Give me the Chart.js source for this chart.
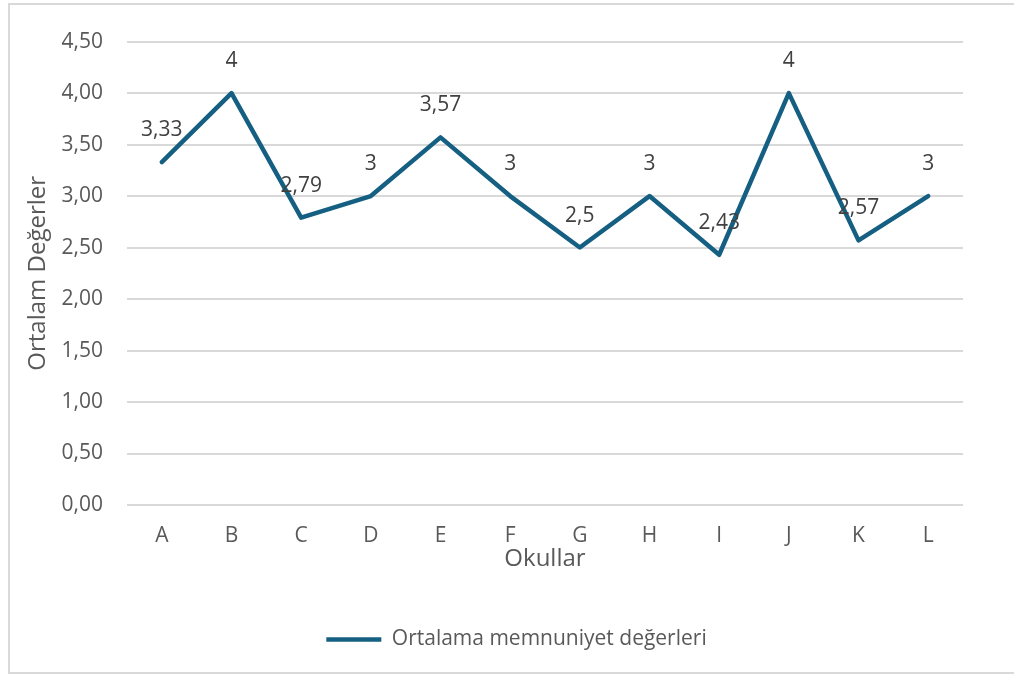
<!DOCTYPE html>
<html>
<head>
<meta charset="utf-8">
<script src="https://cdn.jsdelivr.net/npm/chart.js@4"></script>
<style>
  html, body { margin: 0; padding: 0; background: #fff; overflow: hidden; }
  #box {
    position: absolute; left: 8px; top: 3px;
    width: 1008px; height: 671px;
    border: 2px solid #d9d9d9; box-sizing: border-box;
  }
</style>
</head>
<body>
<div id="box"><canvas id="chart" width="1004" height="667"></canvas></div>
<script>
const okullar = ['A', 'B', 'C', 'D', 'E', 'F', 'G', 'H', 'I', 'J', 'K', 'L'];
const ortalamalar = [3.33, 4, 2.79, 3, 3.57, 3, 2.5, 3, 2.43, 4, 2.57, 3];
const seriAdi = 'Ortalama memnuniyet değerleri';

const fontAile = '"Open Sans", "Liberation Sans", sans-serif';
const virgul = v => String(v).replace('.', ',');

// Excel-like data labels centred above each point
const etiketler = {
    id: 'etiketler',
    afterDatasetsDraw(chart) {
        const ctx = chart.ctx;
        const meta = chart.getDatasetMeta(0);
        ctx.save();
        ctx.font = '21px ' + fontAile;
        ctx.fillStyle = '#404040';
        ctx.textAlign = 'center';
        ctx.textBaseline = 'middle';
        meta.data.forEach((pt, i) => {
            ctx.fillText(virgul(ortalamalar[i]), pt.x, pt.y - 32);
        });
        ctx.restore();
    }
};

// legend sits centred on the whole chart, not on the padded area
const legendKaydir = {
    id: 'legendKaydir',
    afterLayout(chart) {
        chart.legend.left += 25;
        chart.legend.right += 25;
    }
};

new Chart(document.getElementById('chart'), {
    type: 'line',
    data: {
        labels: okullar,
        datasets: [{
            label: seriAdi,
            data: ortalamalar,
            borderColor: '#156082',
            backgroundColor: '#156082',
            borderWidth: 4.5,
            borderJoinStyle: 'round',
            borderCapStyle: 'round',
            pointRadius: 0,
            pointHoverRadius: 0,
            tension: 0
        }]
    },
    options: {
        responsive: false,
        animation: false,
        layout: { padding: { left: 10, right: 51, top: 35, bottom: 12 } },
        plugins: {
            tooltip: { enabled: false },
            legend: {
                position: 'bottom',
                labels: {
                    usePointStyle: true,
                    pointStyle: 'line',
                    pointStyleWidth: 55,
                    color: '#595959',
                    padding: 10,
                    font: { family: fontAile, size: 21 }
                }
            }
        },
        scales: {
            x: {
                offset: true,
                grid: { display: false, drawTicks: false },
                border: { display: false },
                ticks: {
                    color: '#595959',
                    padding: 18,
                    font: { family: fontAile, size: 21 }
                },
                title: {
                    display: true,
                    text: 'Okullar',
                    color: '#595959',
                    padding: { top: 4, bottom: 45 },
                    font: { family: fontAile, size: 24 }
                },
                afterFit: s => { s.height = 114; }
            },
            y: {
                min: 0,
                max: 4.5,
                grid: { color: '#d9d9d9', lineWidth: 2, drawTicks: false },
                border: { display: false },
                ticks: {
                    stepSize: 0.5,
                    color: '#595959',
                    padding: 24,
                    font: { family: fontAile, size: 21 },
                    callback: v => v.toFixed(2).replace('.', ',')
                },
                title: {
                    display: true,
                    text: 'Ortalam Değerler',
                    color: '#595959',
                    font: { family: fontAile, size: 24 }
                },
                afterFit: s => { s.width = 107; }
            }
        }
    },
    plugins: [etiketler, legendKaydir]
});
</script>
</body>
</html>
